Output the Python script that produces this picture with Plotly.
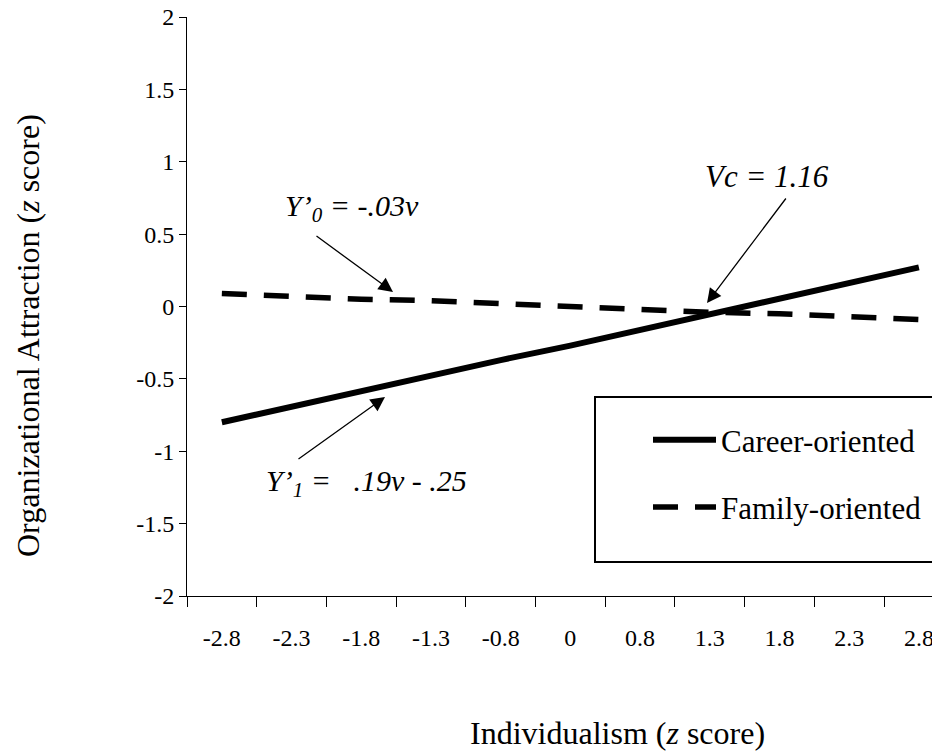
import plotly.graph_objects as go

categories = ["-2.8", "-2.3", "-1.8", "-1.3", "-0.8", "0", "0.8", "1.3", "1.8", "2.3", "2.8"]
career = [-0.80, -0.69, -0.59, -0.48, -0.37, -0.27, -0.16, -0.05, 0.06, 0.17, 0.27]
family = [0.09, 0.07, 0.05, 0.04, 0.02, 0.00, -0.02, -0.04, -0.05, -0.07, -0.09]
y_tickvals = [-2, -1.5, -1, -0.5, 0, 0.5, 1, 1.5, 2]
y_ticktext = ["-2", "-1.5", "-1", "-0.5", "0", "0.5", "1", "1.5", "2"]

FONT = "Liberation Serif, Times New Roman, serif"
W, H = 940, 751
OFF = 8  # page body margin
L, R, T, B = 179, 8, 9, 163
PW, PH = W - L - R, H - T - B


def px(sx):
    return (sx - OFF - L) / PW


def py(sy):
    return (H - B - (sy - OFF)) / PH


fig = go.Figure()
fig.add_trace(go.Scatter(x=categories, y=career, mode="lines", name="Career-oriented",
                         legendgroup="c", line=dict(color="black", width=6)))
fig.add_trace(go.Scatter(x=categories, y=family, mode="lines", name="Family-oriented",
                         legendgroup="f", line=dict(color="black", width=5.5, dash="25px,17px")))

TXT = dict(xref="paper", yref="paper", showarrow=False, xanchor="center", yanchor="middle")
ARR = dict(xref="paper", yref="paper", text="", showarrow=True,
           arrowhead=2, arrowsize=2.2, arrowwidth=1.3, arrowcolor="black")

annotations = [
    dict(x=px(352), y=py(208), text="<i>Y’<sub>0</sub> = -.03v</i>",
         font=dict(family=FONT, size=30, color="black"), **TXT),
    dict(x=px(366), y=py(483), text="<i>Y’<sub>1</sub> =\u00a0\u00a0 .19v - .25</i>",
         font=dict(family=FONT, size=30, color="black"), **TXT),
    dict(x=px(767), y=py(176), text="<i>Vc = 1.16</i>",
         font=dict(family=FONT, size=31, color="black"), **TXT),
    dict(x=px(393), y=py(292), ax=-78, ay=-57, **ARR),
    dict(x=px(385), y=py(397), ax=-88, ay=63, **ARR),
    dict(x=px(707), y=py(303), ax=80, ay=-106, **ARR),
    dict(x=px(617), y=py(733), text="Individualism (<i>z</i> score)",
         font=dict(family=FONT, size=32, color="black"), **TXT),
    dict(x=px(28), y=py(336), textangle=-90,
         text="Organizational Attraction (<i>z</i> score)",
         font=dict(family=FONT, size=32, color="black"), **TXT),
]

shapes = [
    dict(type="rect", xref="paper", yref="paper", x0=px(595), x1=px(937), y0=py(562), y1=py(397),
         line=dict(color="black", width=2), fillcolor="rgba(0,0,0,0)"),
]

fig.update_layout(
    width=W, height=H,
    margin=dict(l=L, r=R, t=T, b=B, pad=0, autoexpand=False),
    paper_bgcolor="white", plot_bgcolor="white",
    font=dict(family=FONT, size=24, color="black"),
    showlegend=True,
    legend=dict(x=px(648), y=py(413), xanchor="left", yanchor="top",
                bgcolor="rgba(0,0,0,0)", borderwidth=0,
                font=dict(family=FONT, size=31, color="black"),
                traceorder="grouped", tracegroupgap=24, itemwidth=63),
    annotations=annotations,
    shapes=shapes,
    xaxis=dict(type="category", range=[-0.5, 10.303], showgrid=False, zeroline=False,
               showline=True, linecolor="black", linewidth=1, automargin=False,
               ticks="outside", tickson="boundaries", ticklen=10, tickcolor="black",
               tickfont=dict(family=FONT, size=24, color="black"), ticklabelstandoff=20,
               ticklabeloverflow="allow"),
    yaxis=dict(range=[-2, 2], showgrid=False, zeroline=False, showline=True, automargin=False,
               linecolor="black", linewidth=1, ticks="outside", ticklen=7, tickcolor="black",
               tickvals=y_tickvals, ticktext=y_ticktext, ticklabeloverflow="allow",
               tickfont=dict(family=FONT, size=24, color="black")),
)

fig.write_html("out.html")
